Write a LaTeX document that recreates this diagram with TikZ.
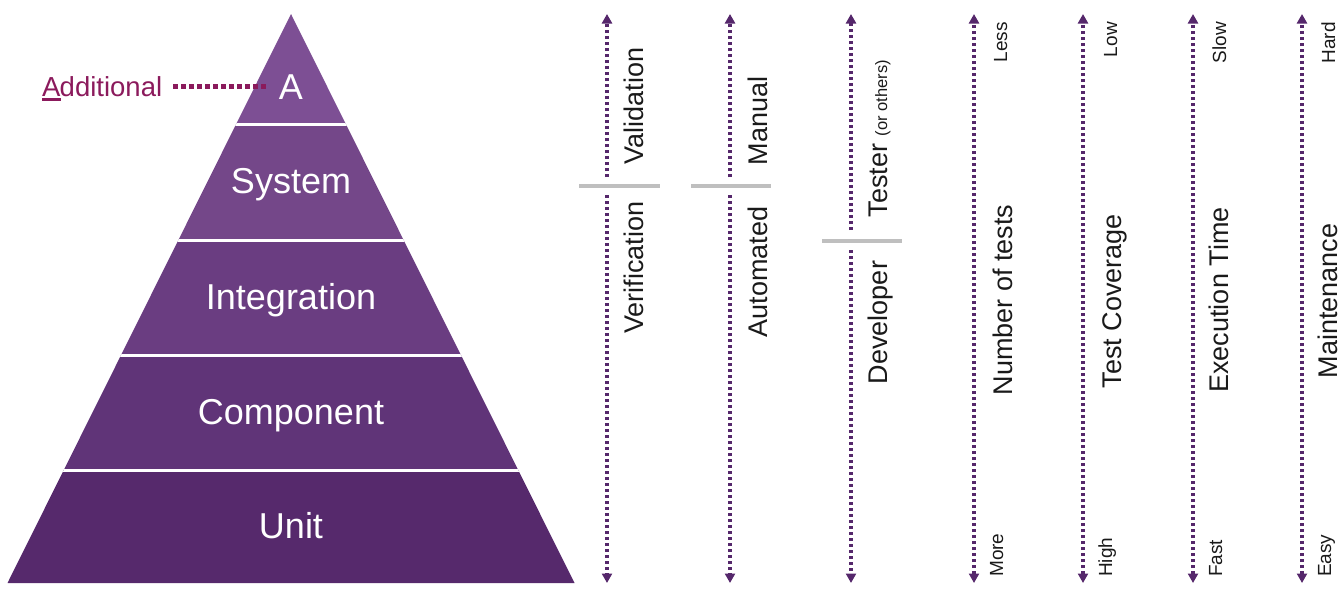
\documentclass[tikz,border=0pt]{standalone}
\usepackage{fontspec}
\setmainfont{Liberation Sans}
\usetikzlibrary{arrows.meta}
\definecolor{bandA}{HTML}{7D4F94}
\definecolor{bandS}{HTML}{744789}
\definecolor{bandI}{HTML}{6A3D81}
\definecolor{bandC}{HTML}{603478}
\definecolor{bandU}{HTML}{56296C}
\definecolor{arrowc}{HTML}{55276B}
\definecolor{sepgray}{HTML}{BFBFBF}
\definecolor{plum}{HTML}{8B1A5C}
\definecolor{labtext}{HTML}{1A1A1A}
\tikzset{
  bandlab/.style={text=white, font=\fontsize{36}{40}\selectfont, inner sep=0pt, anchor=base},
  biglab/.style={text=labtext, font=\fontsize{27}{32}\selectfont, rotate=90, inner sep=0pt, anchor=base},
  smalltop/.style={text=labtext, font=\fontsize{19}{22}\selectfont, rotate=90, inner sep=0pt, anchor=base east},
  smallbot/.style={text=labtext, font=\fontsize{19}{22}\selectfont, rotate=90, inner sep=0pt, anchor=base west},
  sepbar/.style={fill=sepgray, draw=none, minimum width=80pt, minimum height=4pt, inner sep=0pt},
  dotline/.style={draw=arrowc, line width=3.3pt, dash pattern=on 3pt off 3pt},
  uptip/.style={dotline, -{Triangle[width=10pt,length=9.5pt]}},
  bothtip/.style={dotline, {Triangle[width=10pt,length=9.5pt]}-{Triangle[width=10pt,length=9.5pt]}},
  plumdots/.style={draw=plum, line width=5pt, dash pattern=on 5pt off 3pt},
}
\begin{document}
\begin{tikzpicture}[x=1pt, y=-1pt]
\useasboundingbox (0,0) rectangle (1340,592);

% ---------------- pyramid ----------------
\begin{scope}
  \clip (291,14) -- (574.5,583) -- (7.5,583) -- cycle;
  \fill[bandA] (0,0) rectangle (600,124);
  \fill[bandS] (0,124) rectangle (600,240);
  \fill[bandI] (0,240) rectangle (600,355);
  \fill[bandC] (0,355) rectangle (600,470);
  \fill[bandU] (0,470) rectangle (600,590);
  \foreach \yy in {124,240,355,470}
    \draw[white, line width=3pt] (0,\yy) -- (600,\yy);
\end{scope}

\node[bandlab] (Alabel) at (291,99) {A};
\node[bandlab] (system) at (291,193.5) {System};
\node[bandlab] (integration) at (291,309) {Integration};
\node[bandlab] (component) at (291,424) {Component};
\node[bandlab] (unit) at (291,538) {Unit};

% Additional
\node[text=plum, font=\fontsize{27.5}{32}\selectfont, inner sep=0pt, anchor=base west] (additional) at (42,96.5)
  {\setbox0\hbox{A}\rlap{\smash{\rule[-4.5pt]{\wd0}{3pt}}}A\kern-0.03em dditional};
\draw[plumdots] (Alabel.west -| additional.east) ++(11,0) coordinate (pstart) -- (268,0 |- pstart) coordinate (pend);

% ---------------- arrow columns ----------------
\foreach \n/\xx in {1/607,2/730,3/851,4/974,5/1083,6/1193,7/1302}{
  \coordinate (t\n) at (\xx,14);
  \coordinate (b\n) at (\xx,583);
}

% separators
\node[sepbar, minimum width=81pt] (sep1) at (619.5,186) {};
\node[sepbar] (sep2) at (731,186) {};
\node[sepbar] (sep3) at (862,241) {};

\draw[uptip, shorten <=9pt] (sep1.center -| t1) -- (t1);
\draw[uptip, shorten <=9pt] (sep1.center -| b1) -- (b1);
\draw[uptip, shorten <=9pt] (sep2.center -| t2) -- (t2);
\draw[uptip, shorten <=9pt] (sep2.center -| b2) -- (b2);
\draw[uptip, shorten <=11pt] (sep3.center -| t3) -- (t3);
\draw[uptip, shorten <=9pt] (sep3.center -| b3) -- (b3);
\foreach \n in {4,5,6,7}
  \draw[bothtip] (b\n) -- (t\n);

% big labels
\node[biglab] (validation) at (643,106) {Validation};
\node[biglab] (verification) at (643,267.5) {Verification};
\node[biglab] (manual) at (767,121) {Manual};
\node[biglab] (automated) at (767,272) {Automated};
\node[biglab] (tester) at (887,138.5) {Tester {\fontsize{16.5}{20}\selectfont (or others)}};
\node[biglab] (developer) at (887,322.5) {Developer};
\node[biglab] (numtests) at (1012,300) {Number of tests};
\node[biglab] (coverage) at (1121,301) {Test Coverage};
\node[biglab] (exectime) at (1228,300) {Execution Time};
\node[biglab] (maint) at (1337,301) {Maintenance};

% small labels
\node[smalltop] (less) at (1007,22) {Less};
\node[smalltop] (low) at (1117,22) {Low};
\node[smalltop] (slow) at (1226,22) {Slow};
\node[smalltop] (hard) at (1335,22) {Hard};
\node[smallbot] (more) at (1003,577) {More};
\node[smallbot] (high) at (1112,577) {High};
\node[smallbot] (fast) at (1222,577) {Fast};
\node[smallbot] (easy) at (1331,577) {Easy};
\end{tikzpicture}
\end{document}
